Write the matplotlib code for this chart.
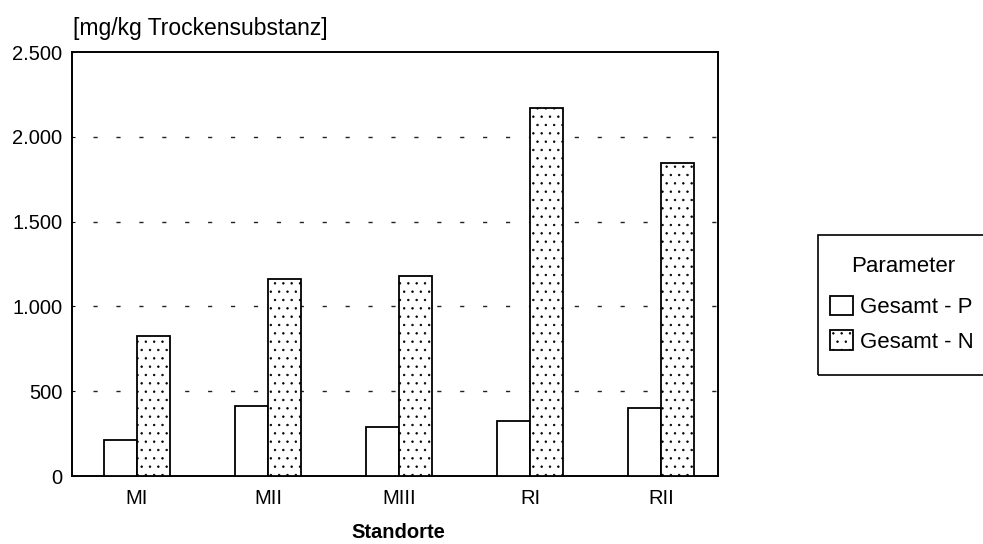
import numpy as np
import matplotlib
matplotlib.use("Agg")
import matplotlib.pyplot as plt
from matplotlib.patches import Rectangle
from matplotlib.ticker import FuncFormatter

plt.rcParams["font.family"] = ["Liberation Sans", "DejaVu Sans"]
plt.rcParams["hatch.linewidth"] = 0.5
plt.rcParams["hatch.color"] = "#666666"

standorte = ["MI", "MII", "MIII", "RI", "RII"]
gesamt_p = [213, 415, 287, 326, 401]
gesamt_n = [826, 1160, 1182, 2172, 1844]
y_ticks = [0, 500, 1000, 1500, 2000, 2500]


def de_thousands(v, pos=None):
    return f"{int(v):,}".replace(",", ".")


fig = plt.figure(figsize=(9.83, 5.44), dpi=100)
ax = fig.add_axes([72 / 983, 1 - 476 / 544, 646 / 983, 424 / 544])

x = np.arange(len(standorte))
w = 0.25
ax.bar(x - w / 2, gesamt_p, w, color="white", edgecolor="black", linewidth=1.3,
       label="Gesamt - P", zorder=3)
ax.bar(x + w / 2, gesamt_n, w, color="white", edgecolor="black", linewidth=1.3,
       hatch="..", label="Gesamt - N", zorder=3)

# dashed grid lines, starting a bit right of the axis
for yv in y_ticks[1:-1]:
    ax.axhline(yv, xmin=0.032, color="#222222", linewidth=1.0,
               dashes=(3, 13.5), zorder=1)

ax.set_xlim(-0.496, 4.435)
ax.set_ylim(0, 2500)
ax.set_yticks(y_ticks)
ax.yaxis.set_major_formatter(FuncFormatter(de_thousands))
ax.set_xticks(x)
ax.set_xticklabels(standorte)
ax.tick_params(axis="y", length=2, direction="in", pad=7, labelsize=14.5)
ax.tick_params(axis="x", length=0, pad=9, labelsize=14.5)
for s in ax.spines.values():
    s.set_linewidth(1.4)

fig.text(73 / 983, 1 - 28 / 544, "[mg/kg Trockensubstanz]", fontsize=16.5,
         va="center", ha="left")
fig.text(398 / 983, 1 - 533 / 544, "Standorte", fontsize=14.5,
         fontweight="bold", ha="center", va="center")

# legend box (cut off by the right edge like in the original)
fig.patches.append(Rectangle((818 / 983, 1 - 375 / 544), 200 / 983, 140 / 544,
                             transform=fig.transFigure, fill=False,
                             edgecolor="black", linewidth=1.2))
fig.text(903 / 983, 1 - 266 / 544, "Parameter", fontsize=16,
         ha="center", va="center")
leg = ax.legend(loc="upper left", bbox_to_anchor=(830 / 983, 1 - 296 / 544),
                bbox_transform=fig.transFigure,
                fontsize=16, frameon=False,
                handlelength=1.05, handleheight=0.95, handletextpad=0.3,
                borderpad=0, labelspacing=0.55, borderaxespad=0)

fig.savefig("out.png", dpi=100)
